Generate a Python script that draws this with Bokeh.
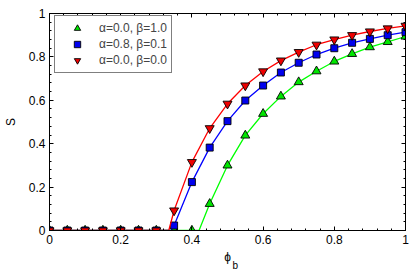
from bokeh.plotting import figure
from bokeh.models import (Range1d, FixedTicker, LinearAxis, Legend, LegendItem, Title)
from bokeh.embed import file_html
from bokeh.resources import INLINE

# ---- data ----
phi = [0.0, 0.05, 0.10, 0.15, 0.20, 0.25, 0.30, 0.35, 0.40, 0.45, 0.50,
       0.55, 0.60, 0.65, 0.70, 0.75, 0.80, 0.85, 0.90, 0.95, 1.0]
S_green = [0, 0, 0, 0, 0, 0, 0, 0, 0, 0.123, 0.300, 0.438, 0.538, 0.618,
           0.684, 0.734, 0.779, 0.814, 0.845, 0.869, 0.894]
S_blue = [0, 0, 0, 0, 0, 0, 0, 0.023, 0.223, 0.382, 0.504, 0.599, 0.668,
          0.728, 0.773, 0.811, 0.840, 0.865, 0.883, 0.900, 0.914]
S_red = [0, 0, 0, 0, 0, 0, 0, 0.092, 0.315, 0.471, 0.584, 0.668, 0.733,
         0.783, 0.822, 0.856, 0.880, 0.900, 0.917, 0.931, 0.943]
# onset points where each curve leaves zero
onset_green = 0.42
onset_blue = 0.342
onset_red = 0.335

series_labels = ["α=0.0, β=1.0", "α=0.8, β=0.1", "α=0.0, β=0.0"]
x_ticks = [0.0, 0.2, 0.4, 0.6, 0.8, 1.0]
x_tick_labels = ["0", "0.2", "0.4", "0.6", "0.8", "1"]
y_ticks = [0.0, 0.2, 0.4, 0.6, 0.8, 1.0]
y_tick_labels = ["0", "0.2", "0.4", "0.6", "0.8", "1"]
minor_ticks = [i * 0.04 for i in range(26)]
x_label = "ϕ"
x_label_sub = "b"
y_label = "S"

FONT = "Liberation Sans"

p = figure(width=415, height=271, output_backend="svg", toolbar_location=None,
           x_range=Range1d(0, 1), y_range=Range1d(0, 1),
           x_axis_location=None, y_axis_location=None,
           min_border_left=43, min_border_right=10, min_border_top=13,
           min_border_bottom=41)
p.grid.visible = False
p.outline_line_color = "black"
p.outline_line_width = 1
p.background_fill_color = "white"
p.border_fill_color = "white"


def make_axis(loc, labels_visible, ticks, labels, axis_label=None, label_standoff=0):
    ax = LinearAxis(ticker=FixedTicker(ticks=ticks, minor_ticks=minor_ticks))
    ax.major_tick_in = 4
    ax.major_tick_out = 0
    ax.minor_tick_in = 2
    ax.minor_tick_out = 0
    ax.axis_line_color = "black"
    ax.major_tick_line_color = "black"
    ax.minor_tick_line_color = "black"
    if labels_visible:
        ax.major_label_overrides = {t: l for t, l in zip(ticks, labels)}
        ax.major_label_text_font = FONT
        ax.major_label_text_font_size = "12px"
        ax.major_label_text_color = "black"
        ax.major_label_standoff = 4
    else:
        ax.major_label_text_font_size = "0px"
        ax.major_label_text_color = None
        ax.major_label_standoff = 0
    if axis_label is not None:
        ax.axis_label = axis_label
        ax.axis_label_text_font = FONT
        ax.axis_label_text_font_size = "12px"
        ax.axis_label_text_font_style = "normal"
        ax.axis_label_text_color = "black"
        ax.axis_label_standoff = label_standoff
    p.add_layout(ax, loc)
    return ax


make_axis("below", True, x_ticks, x_tick_labels, axis_label=x_label, label_standoff=3)
make_axis("left", True, y_ticks, y_tick_labels, axis_label=y_label, label_standoff=8)
make_axis("above", False, x_ticks, x_tick_labels)
make_axis("right", False, y_ticks, y_tick_labels)

# subscript of the x label
sub = Title(text=x_label_sub, align="left", offset=183, standoff=-14,
            vertical_align="top", text_font=FONT, text_font_size="10px",
            text_font_style="normal", text_color="black")
p.add_layout(sub, "below")


def line_data(onset, vals):
    xs = [0.0, onset]
    ys = [0.0, 0.0]
    for x, v in zip(phi, vals):
        if x > onset:
            xs.append(x)
            ys.append(v)
    return xs, ys


items = []
specs = [
    (S_green, onset_green, "#00ff00", "#00e600", "triangle", 9),
    (S_blue, onset_blue, "#0000ff", "#0000ee", "square", 7),
    (S_red, onset_red, "#ff0000", "#ee0000", "inverted_triangle", 9),
]
for (vals, onset, lc, fc, marker, size), lab in zip(specs, series_labels):
    lx, ly = line_data(onset, vals)
    p.line(lx, ly, line_color=lc, line_width=1.3)
    r = p.scatter(phi, vals, marker=marker, size=size, fill_color=fc,
                  line_color="black", line_width=0.9)
    items.append(LegendItem(label=lab, renderers=[r]))

legend = Legend(items=items, location=(5, 157))
legend.padding = 4
legend.margin = 0
legend.spacing = 0
legend.glyph_width = 36
legend.glyph_height = 16
legend.label_height = 16
legend.label_standoff = 4
legend.label_text_font = FONT
legend.label_text_font_size = "12px"
legend.border_line_color = "black"
legend.border_line_width = 1
legend.background_fill_color = "white"
legend.background_fill_alpha = 1.0
p.add_layout(legend, "center")

open("out.html", "w").write(file_html(p, INLINE))
